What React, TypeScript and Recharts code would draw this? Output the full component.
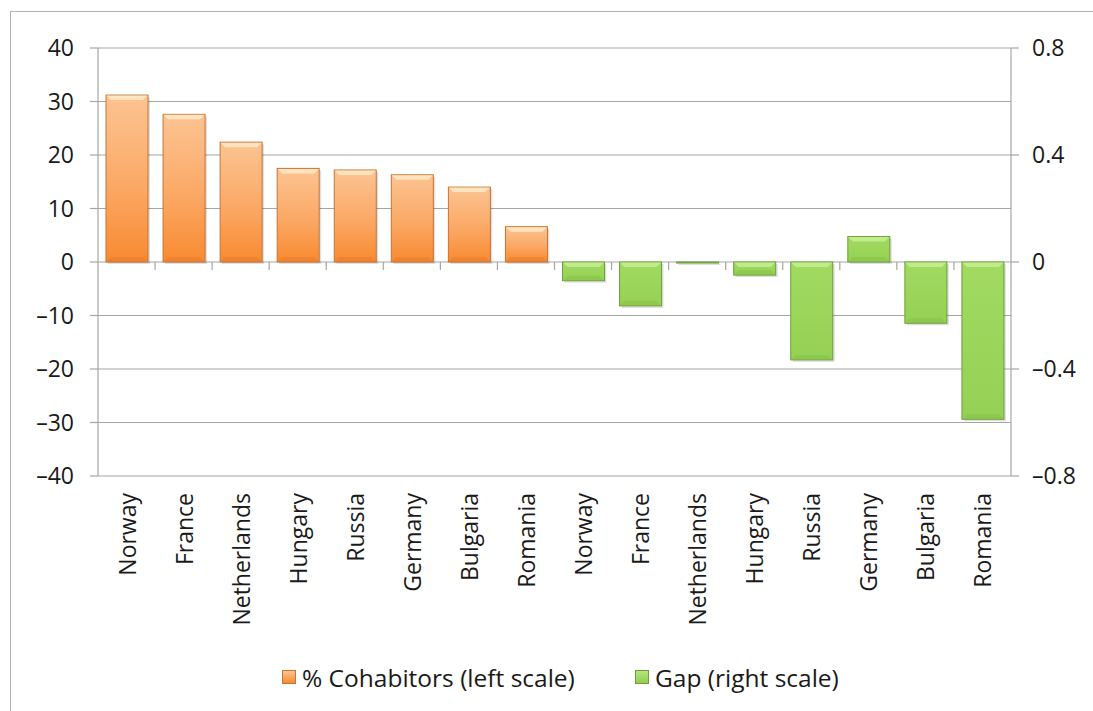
import { BarChart, Bar, XAxis, YAxis, CartesianGrid } from 'recharts'

const countries = ['Norway', 'France', 'Netherlands', 'Hungary', 'Russia', 'Germany', 'Bulgaria', 'Romania']
const cohabitors = [31.2, 27.6, 22.4, 17.5, 17.2, 16.3, 14.0, 6.6]
const gap = [-0.07, -0.164, -0.004, -0.049, -0.366, 0.095, -0.229, -0.588]
const leftTicks = [-40, -30, -20, -10, 0, 10, 20, 30, 40]
const rightTicks = [-0.8, -0.4, 0, 0.4, 0.8]

const FONT = '"Open Sans", sans-serif'
const GRID = '#a6a6a6'
const TEXT = '#1a1a1a'

// plot box
const TOP = 48
const BOTTOM = 476
const ZERO_Y = TOP + (BOTTOM - TOP) / 2

const rows = [
  ...countries.map((name, i) => ({ id: 'c' + i, name, cohab: cohabitors[i], gap: null as number | null })),
  ...countries.map((name, i) => ({ id: 'g' + i, name, cohab: null as number | null, gap: gap[i] })),
]
const nameById: Record<string, string> = {}
rows.forEach((r) => (nameById[r.id] = r.name))

const dash = (s: string) => s.replace('-', '–')

function CategoryTick(props: any) {
  const { x, y, payload, index } = props
  const half = payload?.offset ?? 28.5
  return (
    <g>
      {index > 0 && (
        <line x1={x - half} x2={x - half} y1={ZERO_Y} y2={ZERO_Y + 8} stroke={GRID} strokeWidth={1.2} />
      )}
      <text
        x={x}
        y={y}
        transform={`rotate(-90, ${x}, ${y})`}
        textAnchor="end"
        dominantBaseline="central"
        fontFamily={FONT}
        fontSize={23}
        fill={TEXT}
      >
        {nameById[payload.value]}
      </text>
    </g>
  )
}

function bevelShape(kind: 'orange' | 'green') {
  return (props: any) => {
    const { x, y, width, height } = props
    if (width == null || height == null || isNaN(height)) return <g />
    const y0 = Math.min(y, y + height)
    const h = Math.max(Math.abs(height), 1)
    const b = Math.min(5, h / 2)
    const edge = kind === 'orange' ? '#c47435' : '#6f9e3a'
    const light = kind === 'orange' ? '#ffe9c8' : '#c6ef94'
    const dark = kind === 'orange' ? '#e57a2c' : '#86bf47'
    return (
      <g>
        <rect x={x + 2} y={y0 + 2} width={width} height={h} fill="#000" opacity={0.12} />
        <rect x={x} y={y0} width={width} height={h} fill={`url(#${kind}Grad)`} stroke={edge} strokeWidth={1} />
        <polygon
          points={`${x + 0.5},${y0 + 0.5} ${x + width - 0.5},${y0 + 0.5} ${x + width - b},${y0 + b} ${x + b},${y0 + b}`}
          fill={light}
          opacity={0.85}
        />
        <polygon
          points={`${x + 0.5},${y0 + h - 0.5} ${x + width - 0.5},${y0 + h - 0.5} ${x + width - b},${y0 + h - b} ${x + b},${y0 + h - b}`}
          fill={dark}
          opacity={0.5}
        />
      </g>
    )
  }
}

export default function App() {
  return (
    <div style={{ position: 'relative', width: 1093, height: 711, background: '#fff', overflow: 'hidden' }}>
      <style>{'body{margin:0}'}</style>
      <div
        style={{
          position: 'absolute',
          left: 10,
          top: 11,
          width: 1100,
          height: 720,
          border: '1px solid #b3b3b3',
        }}
      />
      <BarChart
        width={1093}
        height={711}
        data={rows}
        margin={{ top: TOP, right: 0, left: 0, bottom: 0 }}
        style={{ position: 'absolute', left: 0, top: 0 }}
      >
        <defs>
          <linearGradient id="orangeGrad" x1="0" y1="0" x2="0" y2="1">
            <stop offset="0%" stopColor="#fcc492" />
            <stop offset="55%" stopColor="#fba865" />
            <stop offset="100%" stopColor="#f88a30" />
          </linearGradient>
          <linearGradient id="greenGrad" x1="0" y1="0" x2="0" y2="1">
            <stop offset="0%" stopColor="#a2da62" />
            <stop offset="100%" stopColor="#95d154" />
          </linearGradient>
        </defs>
        <CartesianGrid yAxisId="left" vertical={false} stroke={GRID} strokeWidth={1.2} />
        <XAxis
          xAxisId="a"
          dataKey="id"
          height={711 - BOTTOM}
          axisLine={false}
          tickLine={false}
          tickSize={0}
          tickMargin={17}
          interval={0}
          tick={<CategoryTick />}
        />
        <XAxis xAxisId="b" dataKey="id" hide />
        <YAxis
          yAxisId="left"
          orientation="left"
          width={98}
          domain={[-40, 40]}
          ticks={leftTicks}
          interval={0}
          axisLine={{ stroke: GRID, strokeWidth: 1.2 }}
          tickLine={{ stroke: GRID, strokeWidth: 1.2 }}
          tickSize={8}
          tickMargin={16}
          tickFormatter={(v: number) => dash(String(v))}
          tick={{ fill: TEXT, fontSize: 23, fontFamily: FONT }}
        />
        <YAxis
          yAxisId="right"
          orientation="right"
          width={82}
          domain={[-0.8, 0.8]}
          ticks={rightTicks}
          interval={0}
          axisLine={{ stroke: GRID, strokeWidth: 1.2 }}
          tickLine={{ stroke: GRID, strokeWidth: 1.2 }}
          tickSize={8}
          tickMargin={13}
          tickFormatter={(v: number) => dash(String(v))}
          tick={{ fill: TEXT, fontSize: 23, fontFamily: FONT }}
        />
        <Bar
          xAxisId="a"
          yAxisId="left"
          dataKey="cohab"
          barSize={42}
          shape={bevelShape('orange')}
          isAnimationActive={false}
        />
        <Bar
          xAxisId="b"
          yAxisId="right"
          dataKey="gap"
          barSize={42}
          shape={bevelShape('green')}
          isAnimationActive={false}
        />
      </BarChart>
      <LegendItem left={282} color="orange" label="% Cohabitors (left scale)" />
      <LegendItem left={635} color="green" label="Gap (right scale)" />
    </div>
  )
}

function LegendItem({ left, color, label }: { left: number; color: 'orange' | 'green'; label: string }) {
  const bg =
    color === 'orange'
      ? 'linear-gradient(#fcc492, #f88a30)'
      : 'linear-gradient(#b5e47e, #92cf50)'
  const border = color === 'orange' ? '#c47435' : '#6f9e3a'
  return (
    <div
      style={{
        position: 'absolute',
        left,
        top: 659,
        height: 36,
        display: 'flex',
        alignItems: 'center',
        fontFamily: FONT,
        fontSize: 24.5,
        color: TEXT,
        whiteSpace: 'nowrap',
      }}
    >
      <span
        style={{
          display: 'inline-block',
          width: 12,
          height: 12,
          background: bg,
          border: `1px solid ${border}`,
          marginRight: 6,
        }}
      />
      {label}
    </div>
  )
}
